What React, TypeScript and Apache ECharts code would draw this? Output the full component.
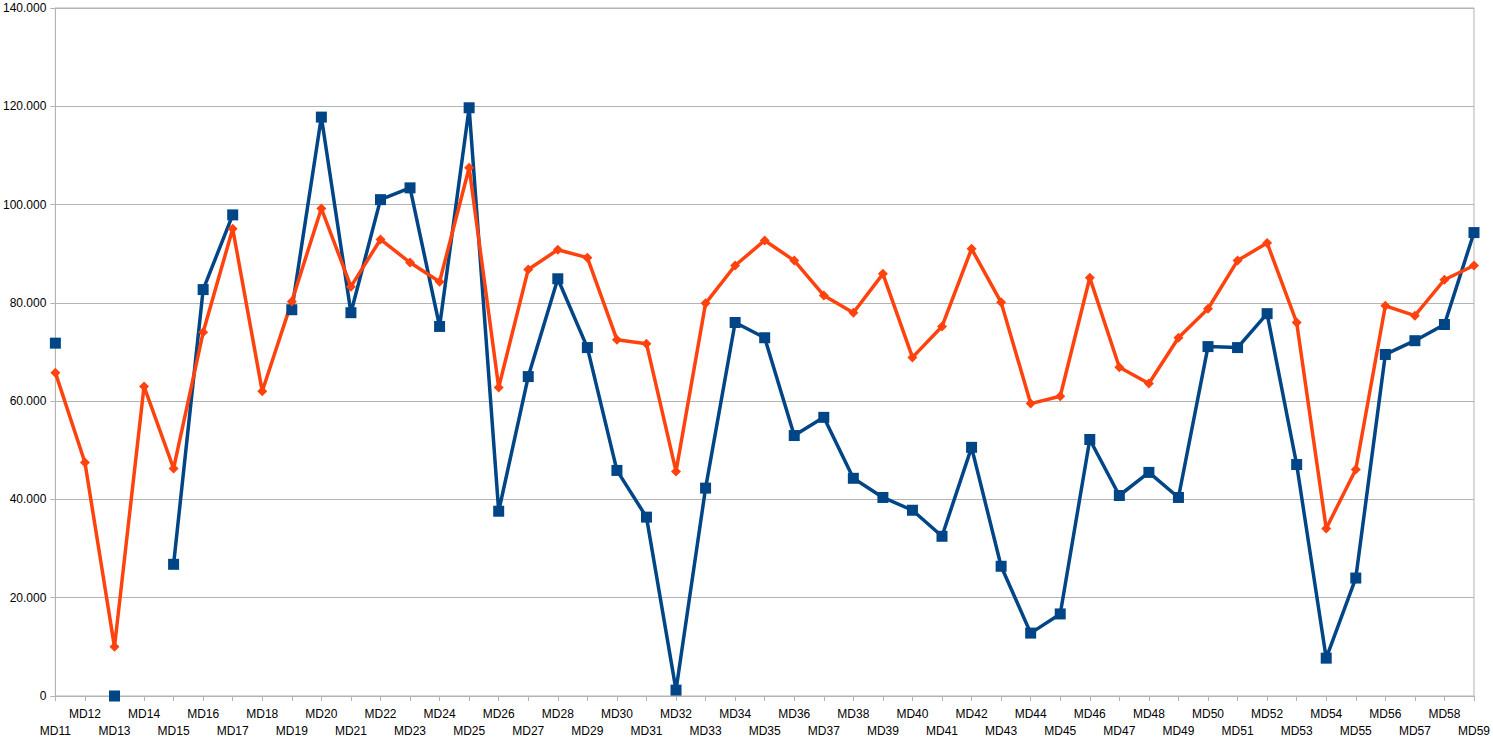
import React, { useEffect, useRef } from "react";
import * as echarts from "echarts";

const categories = [
  "MD11","MD12","MD13","MD14","MD15","MD16","MD17","MD18","MD19","MD20",
  "MD21","MD22","MD23","MD24","MD25","MD26","MD27","MD28","MD29","MD30",
  "MD31","MD32","MD33","MD34","MD35","MD36","MD37","MD38","MD39","MD40",
  "MD41","MD42","MD43","MD44","MD45","MD46","MD47","MD48","MD49","MD50",
  "MD51","MD52","MD53","MD54","MD55","MD56","MD57","MD58","MD59",
];

const blueValues: (number | null)[] = [
  71800, null, 0, null, 26800, 82700, 97900, null, 78600, 117800,
  78000, 101000, 103400, 75200, 119700, 37600, 65000, 84900, 70900, 45900,
  36400, 1200, 42300, 76000, 72900, 53000, 56700, 44300, 40400, 37800,
  32500, 50600, 26400, 12800, 16700, 52200, 40800, 45500, 40400, 71100,
  70900, 77800, 47100, 7700, 24000, 69500, 72300, 75600, 94300,
];

const orangeValues: (number | null)[] = [
  65800, 47500, 10000, 63000, 46300, 74000, 95100, 62000, 80300, 99200,
  83300, 92900, 88200, 84300, 107500, 62800, 86800, 90800, 89200, 72500,
  71700, 45700, 79900, 87600, 92700, 88600, 81500, 78000, 85900, 68900,
  75200, 91000, 80100, 59500, 61000, 85100, 66900, 63600, 72900, 78800,
  88600, 92200, 76000, 34100, 46100, 79400, 77400, 84700, 87600,
];

const yTicks = [0, 20000, 40000, 60000, 80000, 100000, 120000, 140000];

function fmt(v: number): string {
  if (v === 0) return "0";
  const s = String(Math.round(v));
  return s.replace(/\B(?=(\d{3})+(?!\d))/g, ".");
}

export default function App() {
  const ref = useRef<HTMLDivElement>(null);
  useEffect(() => {
    if (!ref.current) return;
    const chart = echarts.init(ref.current, undefined, { renderer: "svg" });
    const font = "'Liberation Sans', Arial, sans-serif";
    chart.setOption({
      animation: false,
      backgroundColor: "#ffffff",
      grid: {
        left: 55,
        right: 18,
        top: 8,
        bottom: 42,
        show: true,
        borderColor: "#b3b3b3",
        borderWidth: 1,
        backgroundColor: "transparent",
      },
      xAxis: {
        type: "category",
        data: categories,
        boundaryGap: false,
        axisLine: { show: true, lineStyle: { color: "#b3b3b3", width: 1 } },
        axisTick: { show: true, interval: 0, length: 5, lineStyle: { color: "#b3b3b3" } },
        axisLabel: {
          interval: 0,
          margin: 9,
          color: "#000000",
          fontFamily: font,
          fontSize: 12,
          lineHeight: 17,
          hideOverlap: false,
          formatter: (value: string, index: number) => (index % 2 === 0 ? "\n" + value : value),
        },
        splitLine: { show: false },
      },
      yAxis: {
        type: "value",
        min: yTicks[0],
        max: yTicks[yTicks.length - 1],
        interval: 20000,
        axisLine: { show: true, lineStyle: { color: "#b3b3b3", width: 1 } },
        axisTick: { show: true, length: 5, lineStyle: { color: "#b3b3b3" } },
        axisLabel: {
          margin: 9,
          color: "#000000",
          fontFamily: font,
          fontSize: 12,
          formatter: (v: number) => fmt(v),
        },
        splitLine: { show: true, lineStyle: { color: "#b3b3b3", width: 1 } },
      },
      series: [
        {
          name: "Series 1",
          type: "line",
          data: blueValues,
          connectNulls: false,
          symbol: "rect",
          symbolSize: 11,
          showAllSymbol: true,
          lineStyle: { color: "#004586", width: 3.5 },
          itemStyle: { color: "#004586", borderWidth: 0 },
        },
        {
          name: "Series 2",
          type: "line",
          data: orangeValues,
          connectNulls: false,
          symbol: "diamond",
          symbolSize: 10,
          showAllSymbol: true,
          lineStyle: { color: "#ff420e", width: 3.5 },
          itemStyle: { color: "#ff420e", borderWidth: 0 },
        },
      ],
    });
    return () => chart.dispose();
  }, []);
  return (
    <div
      ref={ref}
      style={{ position: "fixed", left: 0, top: 0, width: 1493, height: 739 }}
    />
  );
}
